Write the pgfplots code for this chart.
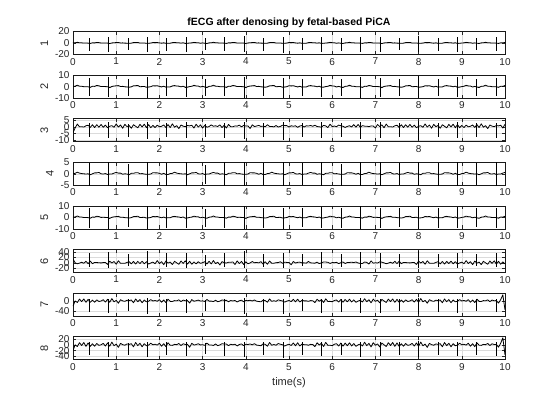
\documentclass[border=0pt]{standalone}
\usepackage{pgfplots}
\pgfplotsset{compat=1.18}
\usepackage{pgfplotstable}
\usepackage{fontspec}
\setmainfont{Liberation Sans}

\pgfplotstableread{
t b d c f g
0.00 0.2 0.1 -4.5 15.0 -20.0
0.05 0.4 0.2 -0.7 0.1 0.5
0.10 1.2 0.7 2.2 -3.0 -5.5
0.15 0.4 0.3 0.1 -0.7 8.0
0.20 0.3 0.1 0.2 2.4 -2.0
0.25 -0.1 0.0 -0.1 -1.5 8.5
0.30 -0.1 -0.1 0.9 5.9 -5.0
0.35 -0.2 0.0 1.3 -2.8 7.0
0.40 -0.7 -0.4 -0.4 6.6 -5.0
0.45 0.3 0.0 1.7 -2.8 4.0
0.50 0.2 0.4 -0.5 1.8 -4.5
0.55 1.0 0.4 1.7 1.3 5.0
0.60 0.7 0.6 -0.2 0.6 -1.5
0.65 0.0 0.0 1.9 0.0 0.5
0.70 0.1 -0.1 -0.3 1.3 5.5
0.75 0.0 0.1 1.4 1.4 -4.0
0.80 -0.1 -0.3 -0.6 -5.5 7.0
0.85 -0.9 -0.1 0.5 6.4 -4.5
0.90 0.1 -0.1 1.0 -0.3 10.0
0.95 0.5 0.3 -0.3 5.1 -3.0
1.00 0.7 0.6 2.3 -4.8 3.0
1.05 0.9 0.3 -0.1 7.8 -8.5
1.10 0.1 0.3 1.5 -1.2 5.5
1.15 0.2 -0.2 -1.0 -1.4 1.0
1.20 -0.2 0.0 2.0 -1.5 -1.0
1.25 -0.3 -0.1 0.2 1.8 3.5
1.30 -0.6 -0.4 1.1 4.4 2.0
1.35 -0.2 0.2 -1.0 -3.5 4.5
1.40 0.7 0.2 1.7 5.4 -6.5
1.45 0.8 0.5 0.5 -4.3 8.5
1.50 1.0 0.5 -0.7 5.6 -2.5
1.55 -0.1 0.0 2.0 -2.3 6.0
1.60 0.0 0.1 0.0 6.3 -6.5
1.65 0.1 -0.1 2.1 -3.2 4.5
1.70 -0.6 -0.2 -0.6 4.6 -3.0
1.75 -0.4 -0.2 1.8 -4.0 -0.5
1.80 -0.1 -0.1 -0.6 -0.2 6.0
1.85 0.8 0.5 1.2 2.9 0.5
1.90 0.6 0.4 -0.5 -3.0 2.5
1.95 0.8 0.4 1.4 8.4 -0.5
2.00 0.2 0.2 0.1 -2.3 6.0
2.05 -0.3 -0.2 0.5 4.6 -4.5
2.10 0.3 0.2 1.5 -6.3 4.5
2.15 -0.5 -0.3 -0.4 6.8 -6.0
2.20 -0.3 -0.3 1.8 -0.7 7.5
2.25 -0.3 0.1 -0.5 3.1 -1.0
2.30 0.6 0.2 2.4 -6.0 -1.5
2.35 0.9 0.7 -0.2 5.8 2.0
2.40 0.5 0.3 1.0 0.4 1.0
2.45 0.4 0.1 -1.3 -5.0 5.0
2.50 -0.2 0.0 1.5 6.9 -2.0
2.55 0.4 -0.1 0.6 -1.8 4.0
2.60 -0.7 0.0 0.2 7.6 1.5
2.65 -0.5 -0.4 1.1 -4.3 2.0
2.70 0.0 0.0 0.8 5.8 -8.0
2.75 0.3 0.4 1.3 -4.7 6.0
2.80 1.1 0.4 -0.9 3.6 -0.5
2.85 0.6 0.6 2.1 -3.5 1.5
2.90 0.5 0.0 -0.1 4.3 4.0
2.95 -0.4 -0.1 1.6 -1.6 0.0
3.00 0.2 0.1 -0.9 1.0 1.0
3.05 -0.4 -0.3 1.3 4.4 -1.5
3.10 -0.8 -0.1 -0.2 -3.8 6.5
3.15 0.2 -0.1 0.3 6.1 0.0
3.20 0.4 0.3 1.6 -3.8 0.0
3.25 1.2 0.6 0.5 8.8 -2.0
3.30 0.4 0.3 0.9 -2.7 3.5
3.35 0.3 0.3 0.3 2.6 -2.5
3.40 -0.1 -0.2 1.6 -7.5 0.0
3.45 -0.1 0.0 -0.5 4.8 4.5
3.50 -0.2 -0.1 1.3 0.9 3.0
3.55 -0.7 -0.4 -0.8 -0.5 3.0
3.60 0.3 0.2 1.9 2.4 -2.5
3.65 0.2 0.2 0.2 2.2 2.5
3.70 1.0 0.5 0.1 3.6 0.5
3.75 0.7 0.5 0.8 -5.8 2.5
3.80 0.0 0.0 0.6 7.3 -3.5
3.85 0.1 0.1 1.4 -2.2 1.5
3.90 0.0 -0.1 0.0 5.6 3.5
3.95 -0.1 -0.2 1.2 -5.5 -2.5
4.00 -0.9 -0.2 0.7 3.8 2.5
4.05 0.1 -0.1 0.8 -3.1 1.5
4.10 0.5 0.5 -1.2 0.0 3.5
4.15 0.7 0.4 1.6 4.9 0.5
4.20 0.9 0.4 0.3 0.7 4.5
4.25 0.1 0.2 0.7 1.6 -0.5
4.30 0.2 -0.2 1.2 0.2 -1.5
4.35 -0.2 0.2 0.4 4.8 -3.0
4.40 -0.3 -0.3 0.6 -4.2 4.0
4.45 -0.6 -0.3 0.1 4.1 2.0
4.50 -0.2 0.1 1.7 -5.0 -4.5
4.55 0.7 0.2 0.4 6.8 8.5
4.60 0.8 0.7 0.4 -1.1 -1.0
4.65 1.0 0.3 0.0 -1.0 1.5
4.70 -0.1 0.1 1.1 0.9 -1.0
4.75 0.0 0.0 -0.1 1.2 5.0
4.80 0.1 -0.1 0.4 4.1 2.5
4.85 -0.6 0.0 1.3 -1.3 0.5
4.90 -0.4 -0.4 1.0 2.8 -4.0
4.95 -0.1 0.0 1.0 1.8 0.0
5.00 0.8 0.4 -0.1 1.6 2.5
5.05 0.6 0.4 0.9 -7.0 -2.0
5.10 0.8 0.6 0.5 5.3 7.0
5.15 0.2 0.0 0.9 -0.6 -3.0
5.20 -0.3 -0.1 -0.3 2.0 7.5
5.25 0.3 0.1 0.7 2.9 -3.5
5.30 -0.5 -0.3 1.1 0.2 3.0
5.35 -0.3 -0.1 -0.1 0.1 1.0
5.40 -0.3 -0.1 0.9 -0.8 1.0
5.45 0.6 0.3 0.7 5.3 -1.0
5.50 0.9 0.6 1.1 0.3 2.0
5.55 0.5 0.3 0.5 -0.4 1.5
5.60 0.4 0.3 1.3 -1.0 -6.0
5.65 -0.2 -0.2 0.3 2.8 7.5
5.70 0.4 0.0 0.1 -2.6 -0.5
5.75 -0.7 -0.1 -0.2 0.5 6.0
5.80 -0.5 -0.4 1.2 3.4 -5.5
5.85 0.0 0.2 0.8 3.2 9.0
5.90 0.3 0.2 -0.5 2.1 -1.5
5.95 1.1 0.5 2.1 -1.8 -1.0
6.00 0.6 0.5 0.2 1.3 -2.5
6.05 0.5 0.0 0.7 0.8 2.5
6.10 -0.4 0.1 0.2 2.1 4.5
6.15 0.2 -0.1 1.4 -2.5 -4.0
6.20 -0.4 -0.2 0.9 0.8 6.5
6.25 -0.8 -0.2 0.5 3.4 -4.5
6.30 0.2 -0.1 -0.4 -2.0 6.5
6.35 0.4 0.5 0.4 1.4 -3.0
6.40 1.2 0.4 0.9 1.7 7.5
6.45 0.4 0.4 0.0 2.6 -3.5
6.50 0.3 0.2 1.8 1.2 5.0
6.55 -0.1 -0.2 -0.2 3.3 -5.0
6.60 -0.1 0.2 1.9 -0.2 0.5
6.65 -0.2 -0.3 -0.3 -1.9 3.0
6.70 -0.7 -0.3 1.0 -2.0 -3.5
6.75 0.3 0.1 0.6 3.3 9.5
6.80 0.2 0.2 0.6 1.9 -2.5
6.85 1.0 0.7 0.2 -4.0 5.5
6.90 0.7 0.3 0.8 7.4 -7.0
6.95 0.0 0.1 0.7 -0.8 8.0
7.00 0.1 0.0 -0.8 0.6 -1.0
7.05 0.0 -0.1 1.9 -0.3 3.5
7.10 -0.1 0.0 0.3 3.8 -7.0
7.15 -0.9 -0.4 1.6 2.8 6.5
7.20 0.1 0.0 -0.7 0.1 0.5
7.25 0.5 0.4 2.2 -3.0 -5.5
7.30 0.7 0.4 0.1 -0.7 8.0
7.35 0.9 0.6 0.2 2.4 -2.0
7.40 0.1 0.0 -0.1 -1.5 8.5
7.45 0.2 -0.1 0.9 5.9 -5.0
7.50 -0.2 0.1 1.3 -2.8 7.0
7.55 -0.3 -0.3 -0.4 6.6 -5.0
7.60 -0.6 -0.1 1.7 -2.8 4.0
7.65 -0.2 -0.1 -0.5 1.8 -4.5
7.70 0.7 0.3 1.7 1.3 5.0
7.75 0.8 0.6 -0.2 0.6 -1.5
7.80 1.0 0.3 1.9 0.0 0.5
7.85 -0.1 0.3 -0.3 1.3 5.5
7.90 0.0 -0.2 1.4 1.4 -4.0
7.95 0.1 0.0 -0.6 -5.5 7.0
8.00 -0.6 -0.1 0.5 6.4 -4.5
8.05 -0.4 -0.4 1.0 -0.3 10.0
8.10 -0.1 0.2 -0.3 5.1 -3.0
8.15 0.8 0.2 2.3 -4.8 3.0
8.20 0.6 0.5 -0.1 7.8 -8.5
8.25 0.8 0.5 1.5 -1.2 5.5
8.30 0.2 0.0 -1.0 -1.4 1.0
8.35 -0.3 0.1 2.0 -1.5 -1.0
8.40 0.3 -0.1 0.2 1.8 3.5
8.45 -0.5 -0.2 1.1 4.4 2.0
8.50 -0.3 -0.2 -1.0 -3.5 4.5
8.55 -0.3 -0.1 1.7 5.4 -6.5
8.60 0.6 0.5 0.5 -4.3 8.5
8.65 0.9 0.4 -0.7 5.6 -2.5
8.70 0.5 0.4 2.0 -2.3 6.0
8.75 0.4 0.2 0.0 6.3 -6.5
8.80 -0.2 -0.2 2.1 -3.2 4.5
8.85 0.4 0.2 -0.6 4.6 -3.0
8.90 -0.7 -0.3 1.8 -4.0 -0.5
8.95 -0.5 -0.3 -0.6 -0.2 6.0
9.00 0.0 0.1 1.2 2.9 0.5
9.05 0.3 0.2 -0.5 -3.0 2.5
9.10 1.1 0.7 1.4 8.4 -0.5
9.15 0.6 0.3 0.1 -2.3 6.0
9.20 0.5 0.1 0.5 4.6 -4.5
9.25 -0.4 0.0 1.5 -6.3 4.5
9.30 0.2 -0.1 -0.4 6.8 -6.0
9.35 -0.4 0.0 1.8 -0.7 7.5
9.40 -0.8 -0.4 -0.5 3.1 -1.0
9.45 0.2 0.0 2.4 -6.0 -1.5
9.50 0.4 0.4 -0.2 5.8 2.0
9.55 1.2 0.4 1.0 0.4 1.0
9.60 0.4 0.6 -1.3 -5.0 5.0
9.65 0.3 0.0 1.5 6.9 -2.0
9.70 -0.1 -0.1 0.6 -1.8 4.0
9.75 -0.1 0.1 0.2 7.6 1.5
9.80 -0.2 -0.3 1.1 -4.3 2.0
9.85 -0.7 -0.1 0.8 5.8 -8.0
9.90 0.3 -0.1 1.3 -4.7 6.0
9.95 0.2 0.3 -0.9 3.6 25.0
10.00 1.0 0.6 2.1 -3.5 -35.0
}\sig

\pgfplotstableread{
t p1u p1d p2u p2d p3u p3d p4u p4d p5u p5d p6u p6d p7u p7d p8u p8d
0.375 9.5 -14 7.5 -8.5 3.0 -8.0 4.5 -5.2 8.5 -9.0 35 -15 8 -42 9 -36
0.824 10.5 -15 8.0 -9.0 3.5 -9.0 5.5 -5.8 9.0 -10.0 40 -18 10 -47 11 -41
1.272 9.0 -13 7.0 -8.0 2.5 -7.5 4.2 -4.8 8.0 -8.5 32 -13 7 -40 8 -34
1.721 11.0 -16 8.5 -9.5 4.0 -9.5 5.8 -6.0 9.5 -10.5 42 -19 11 -50 12 -44
2.170 9.5 -14 7.5 -8.5 3.0 -8.0 4.6 -5.2 8.5 -9.0 35 -15 8 -43 9 -37
2.619 10.0 -15 8.0 -9.0 3.5 -9.0 5.2 -5.6 9.0 -9.5 38 -17 9 -46 10 -40
3.067 8.5 -13 6.5 -8.0 2.5 -7.5 4.0 -4.6 7.5 -8.5 30 -13 6 -39 7 -33
3.516 10.5 -14 8.0 -8.5 3.0 -8.5 5.0 -5.4 9.0 -9.0 36 -16 9 -44 10 -38
3.965 11.5 -16 8.5 -9.5 4.0 -9.5 6.0 -6.0 9.5 -10.5 42 -19 11 -50 12 -44
4.413 9.0 -14 7.0 -8.5 3.0 -8.0 4.5 -5.0 8.0 -9.0 33 -15 8 -42 9 -36
4.862 10.0 -18 7.5 -10.0 3.5 -10.0 5.0 -6.2 8.5 -11.0 37 -20 9 -52 10 -46
5.311 9.5 -13 7.0 -8.0 3.0 -7.5 4.6 -4.8 8.0 -8.5 34 -13 8 -40 9 -34
5.760 10.5 -15 8.0 -9.0 3.5 -9.0 5.4 -5.6 9.0 -9.5 39 -17 10 -46 11 -40
6.208 9.0 -14 7.0 -8.5 3.0 -8.0 4.4 -5.2 8.0 -9.0 33 -15 7 -43 8 -37
6.657 11.0 -16 8.5 -9.5 4.0 -9.5 5.8 -6.0 9.5 -10.5 41 -19 11 -49 12 -43
7.106 10.0 -15 7.5 -9.0 3.5 -9.0 5.0 -5.6 8.5 -9.5 36 -17 9 -46 10 -40
7.554 9.5 -13 7.0 -8.0 3.0 -8.0 4.6 -4.8 8.0 -8.5 34 -14 8 -41 9 -35
8.003 12.0 -16 9.0 -9.5 4.5 -10.0 6.0 -6.0 10.0 -10.5 44 -19 12 -50 13 -44
8.452 9.0 -14 7.0 -8.5 3.0 -8.0 4.5 -5.2 8.0 -9.0 33 -15 8 -43 9 -37
8.901 10.5 -15 8.0 -9.0 3.5 -9.0 5.2 -5.6 9.0 -9.5 38 -17 10 -46 11 -40
9.349 9.5 -13 7.0 -8.0 3.0 -7.5 4.6 -4.8 8.0 -8.5 34 -13 8 -40 9 -34
9.798 10.0 -14 7.5 -8.5 3.0 -8.5 5.0 -5.2 8.5 -9.0 36 -15 9 -44 10 -38
}\beats

\pgfplotsset{
  panel/.style={
    width=432pt, height=23pt, scale only axis, anchor=north west,
    xmin=0, xmax=10, xtick={0,1,...,10},
    grid=major, major grid style={draw=black!14, line width=0.5pt},
    tick align=inside, major tick length=3.5pt,
    tick style={black!85, line width=0.5pt},
    axis line style={black!90, line width=0.7pt},
    ticklabel style={font=\fontsize{10}{12}\selectfont, text=black!85},
    label style={font=\fontsize{11}{13}\selectfont, text=black!85},
    /pgf/number format/assume math mode=true,
    clip=true,
  },
  sigline/.style={black, line width=0.8pt, mark=none, line join=round},
  spike/.style={ycomb, black, line width=0.8pt, mark=none},
}

\begin{document}
\begin{tikzpicture}[x=1pt,y=1pt]
\path[use as bounding box] (0,0) rectangle (560,-420);

\begin{axis}[panel, at={(73pt,-31.5pt)}, ymin=-20, ymax=20, ytick={-20,0,20}, ylabel={1},
  title={fECG after denosing by fetal-based PiCA},
  title style={font=\bfseries\fontsize{10.5}{12}\selectfont, text=black, yshift=-6pt}]
\addplot[sigline] table[x=t,y=b]{\sig};
\addplot[spike] table[x=t,y=p1u]{\beats};
\addplot[spike] table[x=t,y=p1d]{\beats};
\end{axis}

\begin{axis}[panel, at={(73pt,-75.1pt)}, ymin=-10, ymax=10, ytick={-10,0,10}, ylabel={2}]
\addplot[sigline] table[x=t,y=b]{\sig};
\addplot[spike] table[x=t,y=p2u]{\beats};
\addplot[spike] table[x=t,y=p2d]{\beats};
\end{axis}

\begin{axis}[panel, at={(73pt,-118.7pt)}, ymin=-11.5, ymax=6.4, ytick={-10,-5,0,5}, ylabel={3}]
\addplot[sigline] table[x=t,y=c]{\sig};
\addplot[spike] table[x=t,y=p3u]{\beats};
\addplot[spike] table[x=t,y=p3d]{\beats};
\end{axis}

\begin{axis}[panel, at={(73pt,-162.3pt)}, ymin=-5, ymax=5, ytick={-5,0,5}, ylabel={4}]
\addplot[sigline] table[x=t,y=d]{\sig};
\addplot[spike] table[x=t,y=p4u]{\beats};
\addplot[spike] table[x=t,y=p4d]{\beats};
\end{axis}

\begin{axis}[panel, at={(73pt,-205.9pt)}, ymin=-10, ymax=10, ytick={-10,0,10}, ylabel={5}]
\addplot[sigline] table[x=t,y=b]{\sig};
\addplot[spike] table[x=t,y=p5u]{\beats};
\addplot[spike] table[x=t,y=p5d]{\beats};
\end{axis}

\begin{axis}[panel, at={(73pt,-249.5pt)}, ymin=-35, ymax=49, ytick={-20,0,20,40}, ylabel={6}]
\addplot[sigline] table[x=t,y=f]{\sig};
\addplot[spike] table[x=t,y=p6u]{\beats};
\addplot[spike] table[x=t,y=p6d]{\beats};
\end{axis}

\begin{axis}[panel, at={(73pt,-293.1pt)}, ymin=-60, ymax=32, ytick={-40,0}, ylabel={7}]
\addplot[sigline] table[x=t,y=g]{\sig};
\addplot[spike] table[x=t,y=p7u]{\beats};
\addplot[spike] table[x=t,y=p7d]{\beats};
\end{axis}

\begin{axis}[panel, at={(73pt,-336.7pt)}, ymin=-52, ymax=29, ytick={-40,-20,0,20}, ylabel={8},
  xlabel={time(s)}]
\addplot[sigline] table[x=t,y=g]{\sig};
\addplot[spike] table[x=t,y=p8u]{\beats};
\addplot[spike] table[x=t,y=p8d]{\beats};
\end{axis}

\end{tikzpicture}
\end{document}
